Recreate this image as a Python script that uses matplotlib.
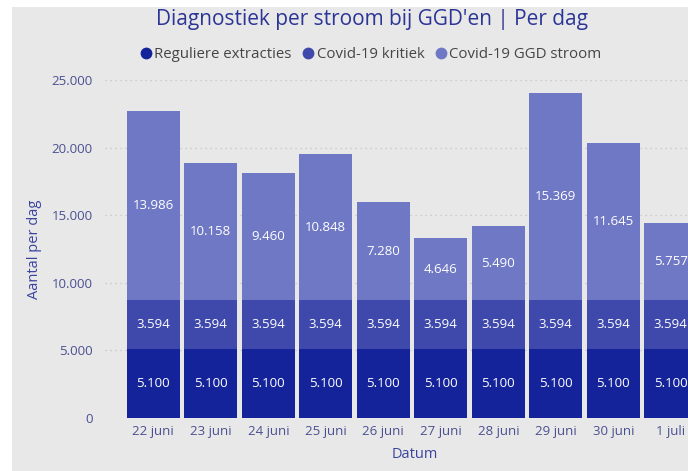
import matplotlib.pyplot as plt
import matplotlib.patches as mpatches
from matplotlib.lines import Line2D
import numpy as np

plt.rcParams['font.family'] = ['Open Sans', 'DejaVu Sans']

dates = ["22 juni", "23 juni", "24 juni", "25 juni", "26 juni", "27 juni",
         "28 juni", "29 juni", "30 juni", "1 juli"]
reguliere = [5100, 5100, 5100, 5100, 5100, 5100, 5100, 5100, 5100, 5100]
kritiek = [3594, 3594, 3594, 3594, 3594, 3594, 3594, 3594, 3594, 3594]
ggd = [13986, 10158, 9460, 10848, 7280, 4646, 5490, 15369, 11645, 5757]
series_names = ["Reguliere extracties", "Covid-19 kritiek", "Covid-19 GGD stroom"]
colors = ["#15239b", "#3e49ab", "#6e78c4"]
yticks = [0, 5000, 10000, 15000, 20000, 25000]
ytick_labels = ["0", "5.000", "10.000", "15.000", "20.000", "25.000"]

bg = "#e8e8e8"
fig = plt.figure(figsize=(6.88, 4.71), dpi=100)
fig.patch.set_facecolor(bg)
# white borders left/top
fig.add_artist(mpatches.Rectangle((0, 0), 12/688, 1, transform=fig.transFigure,
                                  facecolor="white", edgecolor="none", zorder=0))
fig.add_artist(mpatches.Rectangle((0, 1-7/471), 1, 7/471, transform=fig.transFigure,
                                  facecolor="white", edgecolor="none", zorder=0))

ax = fig.add_axes([105/688, 1-418/471, 1-105/688, (418-80)/471])
ax.set_facecolor(bg)
x = np.arange(len(dates))
w = 0.92
bottoms = np.zeros(len(dates))
for vals, c in zip([reguliere, kritiek, ggd], colors):
    vals = np.array(vals)
    ax.bar(x, vals, w, bottom=bottoms, color=c, edgecolor="none", zorder=2)
    for xi, b, v in zip(x, bottoms, vals):
        ax.text(xi, b + v/2, f"{v:,}".replace(",", "."), ha="center", va="center",
                color="white", fontsize=9.5, fontweight="medium", zorder=3, clip_on=True)
    bottoms = bottoms + vals

ax.set_xlim(-0.84, 9.3)
ax.set_ylim(0, 25000)
ax.set_yticks(yticks)
ax.set_yticklabels(ytick_labels)
ax.set_xticks(x)
ax.set_xticklabels(dates)
ax.tick_params(axis="both", length=0, colors="#4a5090", labelsize=9.5)
ax.tick_params(axis="y", pad=9)
ax.tick_params(axis="x", pad=5)
ax.grid(axis="y", color="#c4c4c4", linestyle=(0, (1, 3)), linewidth=0.9, zorder=0)
for s in ax.spines.values():
    s.set_visible(False)

ax.set_ylabel("Aantal per dag", color="#3a44a0", fontsize=10.5)
ax.yaxis.set_label_coords(-(105-42)/583, 0.5)
fig.text(415/688, 1-455/471, "Datum", ha="center", va="center", color="#3a44a0", fontsize=10.5)

fig.text(372/688, 1-20/471, "Diagnostiek per stroom bij GGD'en | Per dag",
         ha="center", va="center", color="#2b3596", fontsize=15)

handles = [Line2D([], [], marker="o", linestyle="none", markersize=8.5,
                  markerfacecolor=c, markeredgecolor="none") for c in colors]
fig.legend(handles, series_names, loc="center", bbox_to_anchor=(370/688, 1-55/471),
           ncol=3, frameon=False, handletextpad=0.05, columnspacing=0.6,
           handlelength=1.0, fontsize=10.8, labelcolor="#454545")

fig.savefig("out.png", dpi=100, facecolor=bg)
